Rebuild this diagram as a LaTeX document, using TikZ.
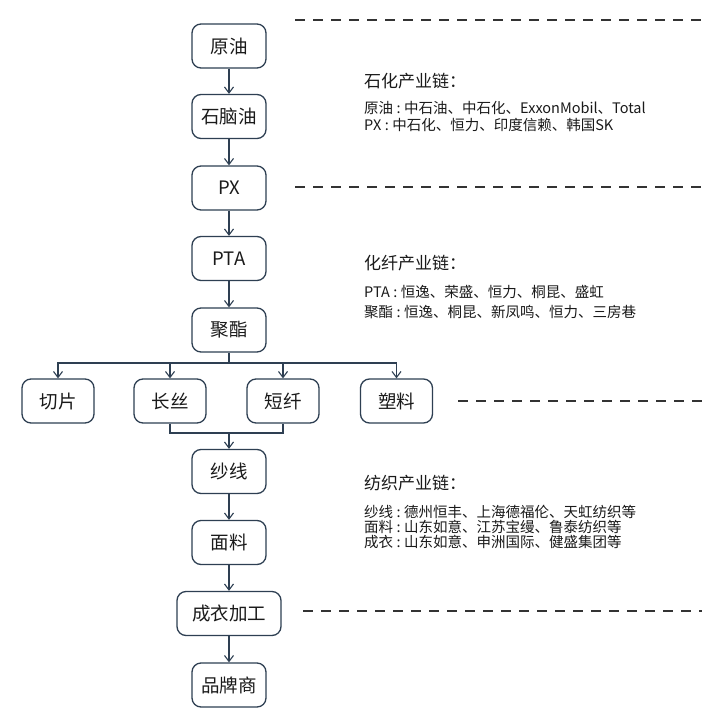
\documentclass[tikz,border=0pt]{standalone}
\usepackage{fontspec}
\setmainfont{Noto Sans CJK SC}
\usetikzlibrary{arrows.meta}
\definecolor{edge}{HTML}{2E3F52}
\definecolor{txt}{HTML}{1A1A1A}
\newcommand{\cln}{\hspace{3.5pt}:\hspace{3.5pt}}
\tikzset{
  box/.style={draw=edge, line width=1.3pt, rounded corners=9pt, minimum width=74pt, minimum height=44pt, inner sep=2pt, font=\fontsize{18.5}{20}\selectfont, text=txt},
  arr/.style={draw=edge, line width=1.2pt, -{Straight Barb[length=6pt,width=9pt,line width=1.1pt]}},
  ln/.style={draw=edge, line width=1.2pt},
  sep/.style={draw=black!80, line width=1.3pt, dash pattern=on 10pt off 8pt},
  head/.style={anchor=west, font=\fontsize{17}{18}\selectfont, text=txt, inner sep=0pt},
  info/.style={anchor=west, font=\fontsize{14.5}{15}\selectfont, text=txt, inner sep=0pt}
}
\begin{document}
\begin{tikzpicture}[x=1pt,y=-1pt]
\useasboundingbox[fill=white] (0,0) rectangle (720,720);
% main chain
\node[box] (yy) at (229,46) {原油};
\node[box] (sny) at (229,116.5) {石脑油};
\node[box] (px) at (229,188) {PX};
\node[box] (pta) at (229,258.5) {PTA};
\node[box] (jz) at (229,330) {聚酯};
\node[box, minimum width=72pt] (qp) at (58,401) {切片};
\node[box, minimum width=72pt] (cs) at (170,401) {长丝};
\node[box, minimum width=72pt] (dx) at (283,401) {短纤};
\node[box, minimum width=72pt] (sl) at (396.5,401) {塑料};
\node[box] (sx) at (229,471.5) {纱线};
\node[box] (ml) at (229,542.5) {面料};
\node[box, minimum width=104pt] (cy) at (229,613.5) {成衣加工};
\node[box] (pps) at (229,685) {品牌商};
\coordinate (bus) at (229,363);
\coordinate (merge) at (229,433);
% connectors
\draw[arr] (yy) -- (sny);
\draw[arr] (sny) -- (px);
\draw[arr] (px) -- (pta);
\draw[arr] (pta) -- (jz);
\draw[ln] (jz.south) -- (bus);
\draw[arr] (bus) -| (qp.north);
\draw[arr] (bus) -| (cs.north);
\draw[arr] (bus) -| (dx.north);
\draw[arr] (bus) -| (sl.north);
\draw[ln] (cs.south) |- (merge);
\draw[ln] (dx.south) |- (merge);
\draw[arr] (merge) -- (sx.north);
\draw[arr] (sx) -- (ml);
\draw[arr] (ml) -- (cy);
\draw[arr] (cy) -- (pps);
% separators
\coordinate (s1a) at (295,20); \coordinate (s1b) at (702,20);
\coordinate (s2a) at (295,187); \coordinate (s2b) at (702,187);
\coordinate (s3a) at (458,401); \coordinate (s3b) at (702,401);
\coordinate (s4a) at (303,611); \coordinate (s4b) at (702,611);
\draw[sep] (s1a) -- (s1b);
\draw[sep] (s2a) -- (s2b);
\draw[sep] (s3a) -- (s3b);
\draw[sep] (s4a) -- (s4b);
% texts
\node[head] (h1) at (364,81) {石化产业链：};
\node[info] (t11) at (364,108) {原油\cln 中石油、中石化、ExxonMobil、Total};
\node[info] (t12) at (364,125) {PX\cln 中石化、恒力、印度信赖、韩国SK};
\node[head] (h2) at (364,263) {化纤产业链：};
\node[info] (t21) at (364,292) {PTA\cln 恒逸、荣盛、恒力、桐昆、盛虹};
\node[info] (t22) at (364,312.5) {聚酯\cln 恒逸、桐昆、新凤鸣、恒力、三房巷};
\node[head] (h3) at (364,483) {纺织产业链：};
\node[info] (t31) at (364,512) {纱线\cln 德州恒丰、上海德福伦、天虹纺织等};
\node[info] (t32) at (364,527) {面料\cln 山东如意、江苏宝缦、鲁泰纺织等};
\node[info] (t33) at (364,542) {成衣\cln 山东如意、申洲国际、健盛集团等};
\end{tikzpicture}
\end{document}
